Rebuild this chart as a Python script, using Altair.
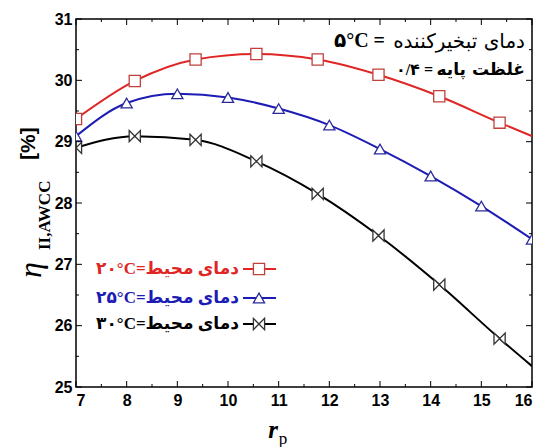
import altair as alt
import pandas as pd

# ---------------- data ----------------
series_names = ["20", "25", "30"]
x_red = [7.0, 8.16, 9.36, 10.56, 11.77, 12.97, 14.17, 15.36, 16.0]
y_red = [29.37, 29.99, 30.34, 30.43, 30.34, 30.09, 29.74, 29.31, 29.09]
x_blue = [7.0, 8.0, 9.0, 10.0, 11.0, 12.0, 13.0, 14.0, 15.0, 16.0]
y_blue = [29.09, 29.63, 29.78, 29.72, 29.54, 29.27, 28.88, 28.44, 27.95, 27.41]
x_black = [7.0, 8.16, 9.36, 10.56, 11.77, 12.97, 14.17, 15.36, 16.0]
y_black = [28.90, 29.09, 29.03, 28.68, 28.15, 27.47, 26.67, 25.79, 25.34]
# red and black curves end at x=16 without a marker
red_marker_count = 8
blue_marker_count = 10
black_marker_count = 8

x_major = [7, 8, 9, 10, 11, 12, 13, 14, 15, 16]
x_minor = [7.5, 8.5, 9.5, 10.5, 11.5, 12.5, 13.5, 14.5, 15.5]
y_major = [25, 26, 27, 28, 29, 30, 31]
y_minor = [25.5, 26.5, 27.5, 28.5, 29.5, 30.5]

legend_labels = ["۲۰°C=دمای محیط", "۲۵°C=دمای محیط", "۳۰°C=دمای محیط"]
note1_persian = "دمای تبخیرکننده"
note1_value = "۵°C ="
note2_persian = "غلظت پایه"
note2_value = "۰/۴ ="

line_colors = ["#e02525", "#1c1cb4", "#000000"]
marker_colors = ["#c0403c", "#2a2a9a", "#333333"]
shapes = ["square", "triangle-up", "M-1,-1L1,1L1,-1L-1,1Z"]

W, H = 456, 368

rows = []
for name, xs, ys, n in [("20", x_red, y_red, red_marker_count),
                        ("25", x_blue, y_blue, blue_marker_count),
                        ("30", x_black, y_black, black_marker_count)]:
    for i, (a, b) in enumerate(zip(xs, ys)):
        rows.append({"series": name, "x": a, "y": b, "marker": i < n})
df = pd.DataFrame(rows)

xscale = alt.Scale(domain=[7, 16], nice=False, zero=False)
yscale = alt.Scale(domain=[25, 31], nice=False, zero=False)

xaxis = alt.Axis(values=x_major, ticks=False, domain=False, grid=False, title=None,
                 labelFont="Liberation Sans", labelFontWeight="bold", labelFontSize=16,
                 labelColor="black", labelPadding=5)
yaxis = alt.Axis(values=y_major, ticks=False, domain=False, grid=False, title=None,
                 labelFont="Liberation Sans", labelFontWeight="bold", labelFontSize=16,
                 labelColor="black", labelPadding=4)

def X(field):
    return alt.X(field, scale=xscale, axis=xaxis)

def Y(field):
    return alt.Y(field, scale=yscale, axis=yaxis)

lines = alt.Chart(df).mark_line(interpolate="monotone", strokeWidth=2, clip=True).encode(
    x=X("x:Q"), y=Y("y:Q"),
    color=alt.Color("series:N", scale=alt.Scale(domain=series_names, range=line_colors), legend=None),
)

points = alt.Chart(df).transform_filter("datum.marker").mark_point(
    filled=True, fill="white", strokeWidth=1.3, size=125, opacity=1, clip=True
).encode(
    x=X("x:Q"), y=Y("y:Q"),
    stroke=alt.Stroke("series:N", scale=alt.Scale(domain=series_names, range=marker_colors), legend=None),
    shape=alt.Shape("series:N", scale=alt.Scale(domain=series_names, range=shapes), legend=None),
)

# inward ticks on all four sides
xt_major = pd.DataFrame({"v": x_major})
xt_minor = pd.DataFrame({"v": x_minor})
yt_major = pd.DataFrame({"v": y_major})
yt_minor = pd.DataFrame({"v": y_minor})

tick_layers = []
for d, ln in [(xt_major, 6), (xt_minor, 3)]:
    tick_layers.append(alt.Chart(d).mark_rule(color="black", strokeWidth=1).encode(
        x=X("v:Q"), y=alt.value(H), y2=alt.value(H - ln)))
    tick_layers.append(alt.Chart(d).mark_rule(color="black", strokeWidth=1).encode(
        x=X("v:Q"), y=alt.value(0), y2=alt.value(ln)))
for d, ln in [(yt_major, 6), (yt_minor, 3)]:
    tick_layers.append(alt.Chart(d).mark_rule(color="black", strokeWidth=1).encode(
        y=Y("v:Q"), x=alt.value(0), x2=alt.value(ln)))
    tick_layers.append(alt.Chart(d).mark_rule(color="black", strokeWidth=1).encode(
        y=Y("v:Q"), x=alt.value(W), x2=alt.value(W - ln)))

one = pd.DataFrame({"k": [0]})

def txt(text, x, y, size, color="black", font="Liberation Serif, DejaVu Sans",
        weight="normal", style="normal", align="center", angle=0, baseline="middle"):
    return alt.Chart(one).mark_text(
        text=text, font=font, fontSize=size, fontWeight=weight, fontStyle=style,
        color=color, align=align, baseline=baseline, angle=angle
    ).encode(x=alt.value(x), y=alt.value(y))

# legend (manual)
legend_layers = []
legend_y = [250, 279, 305]
for i, lab in enumerate(legend_labels):
    yy = legend_y[i]
    legend_layers.append(alt.Chart(one).mark_rule(color=line_colors[i], strokeWidth=2).encode(
        x=alt.value(167), x2=alt.value(200), y=alt.value(yy)))
    legend_layers.append(alt.Chart(one).mark_point(
        shape=shapes[i], filled=True, fill="white", stroke=marker_colors[i],
        strokeWidth=1.3, size=125, opacity=1).encode(x=alt.value(183), y=alt.value(yy)))
    legend_layers.append(txt(lab, 163, yy, 17, color=line_colors[i], weight="bold", align="right"))

# annotations
notes = [
    txt(note1_persian, 449, 23, 20, font="DejaVu Sans", align="right"),
    txt(note1_value, 309, 22, 20, weight="bold", align="right"),
    txt(note2_persian, 449, 51, 17, weight="bold", font="DejaVu Sans", align="right"),
    txt(note2_value, 357, 51, 16, weight="bold", align="right"),
]

# axis titles (manual, with subscripts)
titles = [
    txt("η", -45, 251, 32, style="italic", font="Liberation Serif", angle=270),
    txt("II,AWCC", -31, 231, 17, weight="bold", font="Liberation Serif", angle=270, align="left"),
    txt("[%]", -47, 141, 21, weight="bold", font="Liberation Sans", angle=270, align="left"),
    txt("r", 197, 411, 25, weight="bold", style="italic", font="Liberation Serif"),
    txt("p", 207, 420, 17, font="Liberation Serif"),
]

chart = alt.layer(lines, points, *tick_layers, *legend_layers, *notes, *titles).properties(
    width=W, height=H,
    autosize=alt.AutoSizeParams(type="none"),
    padding={"left": 76, "top": 19, "right": 8, "bottom": 60},
    background="white",
).configure_view(stroke="black", strokeWidth=1.5)

chart.save("out.html", embed_options={"renderer": "svg", "actions": False})
